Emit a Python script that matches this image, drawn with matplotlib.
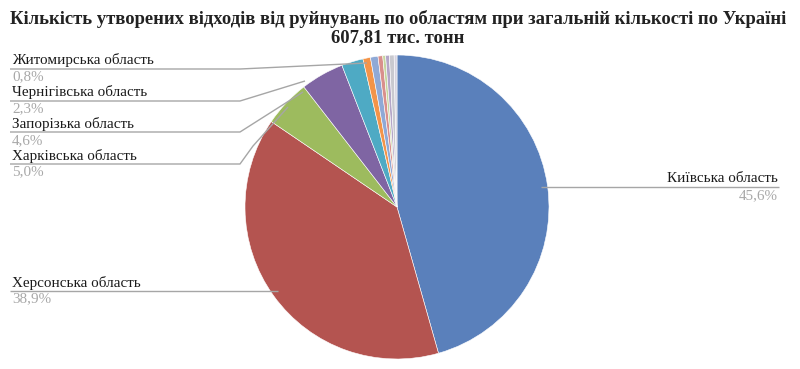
import matplotlib.pyplot as plt

# regions shown with labels, then small unlabeled slices
regions = ['Київська область', 'Херсонська область', 'Харківська область',
           'Запорізька область', 'Чернігівська область', 'Житомирська область',
           '', '', '', '', '', '']
shares = [45.6, 38.9, 5.0, 4.6, 2.3, 0.8, 0.8, 0.5, 0.3, 0.4, 0.5, 0.3]
colors = ['#5a80bb', '#b45450', '#9dbb5e', '#7f65a3', '#4eaac4', '#f39449',
          '#8fa9d6', '#d98f8c', '#c6d69e', '#b4a6c8', '#c9c9cf', '#d6d3e0']

title = 'Кількість утворених відходів від руйнувань по областям при загальній кількості по Україні\n607,81 тис. тонн'

W, H = 800, 369
fig = plt.figure(figsize=(W / 100, H / 100), dpi=100)
ax = fig.add_axes([0, 0, 1, 1])

def py(y):
    # picture rows measured from the top
    return H - y

# pie
cx, cy, r = 397, 207, 152
ax.pie(shares, colors=colors, startangle=90, counterclock=False,
       center=(cx, py(cy)), radius=r, frame=True,
       wedgeprops=dict(edgecolor='white', linewidth=0.4))
ax.set_xlim(0, W)
ax.set_ylim(0, H)
ax.set_aspect('equal')
ax.axis('off')

# label layout: (text x, name row, percent row, align, leader line points)
layout = {
    0: (778, 179, 196, 'right', [(541, 187), (779, 187)]),
    1: (12, 283, 299, 'left', [(10, 291), (278, 291)]),
    2: (12, 156, 172, 'left', [(10, 164), (240, 164), (253, 146), (288, 107)]),
    3: (12, 124, 141, 'left', [(10, 132), (240, 132), (303, 92)]),
    4: (12, 92, 109, 'left', [(10, 101), (240, 101), (305, 81)]),
    5: (12, 60, 77, 'left', [(10, 69), (240, 69), (367, 63)]),
}

serif = ['Liberation Serif', 'DejaVu Serif']
for i, (tx, ny, pyy, ha, pts) in layout.items():
    xs = [p[0] for p in pts]
    ys = [py(p[1]) for p in pts]
    ax.plot(xs, ys, color='#a6a6a6', lw=1.0, solid_capstyle='butt', zorder=3)
    ax.text(tx, py(ny), regions[i], ha=ha, va='center', fontsize=10.9,
            family=serif, color='#1a1a1a')
    ax.text(tx, py(pyy), f'{shares[i]:.1f}%'.replace('.', ','), ha=ha,
            va='center', fontsize=10.9, family=serif, color='#a8a8a8')

fig.text(0.4975, 1 - 28 / H, title, ha='center', va='center', fontsize=13.4,
         fontweight='bold', family=serif, color='#222222', linespacing=1.15)

fig.savefig('out.png', dpi=100)
